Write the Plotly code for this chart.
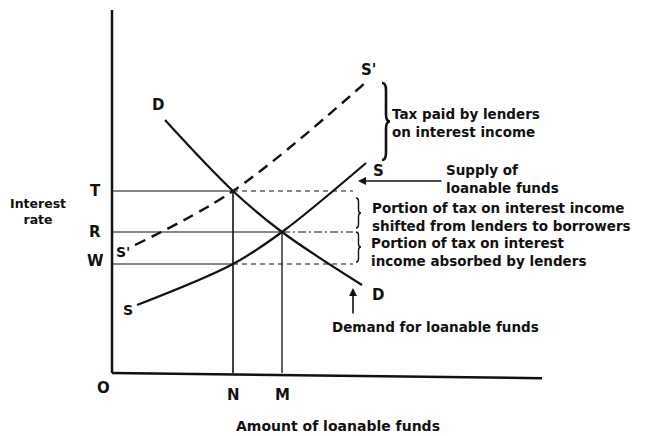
import plotly.graph_objects as go

# ---------------- data (economic units) ----------------
# Demand for loanable funds (quantity, interest rate)
demand_x = [1.06, 2.42, 3.40, 5.00]
demand_y = [6.325, 4.55, 3.525, 2.20]
# Supply of loanable funds before tax
supply_x = [0.50, 2.42, 3.40, 5.08]
supply_y = [1.70, 2.725, 3.525, 5.25]
# Supply after tax on interest income (S')
supply_tax_x = [0.46, 2.42, 5.06]
supply_tax_y = [3.20, 4.55, 7.25]

# key quantities and rates
N, M = 2.42, 3.40
T, R, W = 4.55, 3.525, 2.725

rate_labels = ["T", "R", "W"]
qty_labels = ["N", "M"]

# ---------------- layout helpers ----------------
# (page body has an 8px margin, ranges compensate for it)
X_RANGE = [-2.08, 10.82]
Y_RANGE = [-1.775, 9.125]
GUIDE_END = 4.82
Y_AXIS_TOP = 9.075
X_AXIS_END = 8.6

FONT = "DejaVu Sans"
BLACK = "#111111"

fig = go.Figure()

def line(xs, ys, width=1.2, dash="solid", shape="linear"):
    fig.add_trace(go.Scatter(x=xs, y=ys, mode="lines",
                             line=dict(color=BLACK, width=width, dash=dash, shape=shape),
                             hoverinfo="skip", showlegend=False))

# axes
line([0, 0], [Y_AXIS_TOP, 0], width=2.5)
line([0, X_AXIS_END], [0, -0.13], width=2.5)

# curves
line(demand_x, demand_y, width=2.2, shape="spline")
line(supply_x, supply_y, width=2.2, shape="spline")
line(supply_tax_x, supply_tax_y, width=2.4, dash="11px,7px", shape="spline")

# guide lines
line([0, N], [T, T], width=1.2)
line([N, GUIDE_END], [T, T], width=1.2, dash="5px,4px")
line([0, M], [R, R], width=1.2)
line([M, GUIDE_END], [R, R], width=1.2, dash="8px,3px,2px,3px")
line([0, N], [W, W], width=1.2)
line([N, GUIDE_END], [W, W], width=1.2, dash="5px,4px")
line([N, N], [0, T], width=1.6)
line([M, M], [0, R], width=1.3)


def brace(x, y_top, y_bot, w, d):
    ym = (y_top + y_bot) / 2
    h = x + w / 2
    return (f"M {x},{y_top} Q {h},{y_top} {h},{y_top - d} "
            f"L {h},{ym + d} Q {h},{ym} {x + w},{ym} "
            f"Q {h},{ym} {h},{ym - d} "
            f"L {h},{y_bot + d} Q {h},{y_bot} {x},{y_bot}")

shapes = [
    dict(type="path", xref="x", yref="y", path=brace(5.40, 7.25, 5.325, 0.16, 0.18),
         line=dict(color=BLACK, width=2.6)),
    dict(type="path", xref="x", yref="y", path=brace(4.88, 4.375, 3.625, 0.10, 0.08),
         line=dict(color=BLACK, width=1.4)),
    dict(type="path", xref="x", yref="y", path=brace(4.88, 3.525, 2.775, 0.10, 0.08),
         line=dict(color=BLACK, width=1.4)),
]

annotations = []

def text(x, y, s, size=13.5, xanchor="center", align="left"):
    annotations.append(dict(x=x, y=y, xref="x", yref="y", text=s, showarrow=False,
                            xanchor=xanchor, yanchor="middle", align=align,
                            font=dict(family=FONT, size=size, color=BLACK, weight="bold")))

# curve labels
text(0.92, 6.70, "D", 15)
text(5.32, 1.95, "D", 15)
text(5.12, 7.575, "S'", 15)
text(5.32, 5.05, "S", 15)
text(0.22, 3.025, "S'", 14)
text(0.32, 1.575, "S", 14)

# axis labels
for lab, val in zip(rate_labels, [T, R, W + 0.08]):
    text(-0.34, val, lab, 15)
text(-0.18, -0.375, "O", 15)
for lab, val in zip(qty_labels, [N, M]):
    text(val, -0.55, lab, 15)
text(4.52, -1.325, "Amount of loanable funds", 14)
text(-1.48, 4.05, "Interest<br>rate", 12.5, align="center")

# descriptions
text(5.56, 6.24, "Tax paid by lenders<br>on interest income", 13.5, xanchor="left")
text(6.64, 4.84, "Supply of<br>loanable funds", 13.5, xanchor="left")
text(5.16, 3.89, "Portion of tax on interest income<br>shifted from lenders to borrowers", 13.5, xanchor="left")
text(5.14, 3.025, "Portion of tax on interest<br>income absorbed by lenders", 13.5, xanchor="left")
text(4.36, 1.15, "Demand for loanable funds", 13.5, xanchor="left")

# arrows
annotations.append(dict(x=4.92, y=4.80, ax=6.62, ay=4.80, xref="x", yref="y",
                        axref="x", ayref="y", text="", showarrow=True,
                        arrowhead=2, arrowsize=1, arrowwidth=1.6, arrowcolor=BLACK))
annotations.append(dict(x=4.82, y=2.125, ax=4.82, ay=1.45, xref="x", yref="y",
                        axref="x", ayref="y", text="", showarrow=True,
                        arrowhead=2, arrowsize=1, arrowwidth=1.6, arrowcolor=BLACK))

fig.update_layout(
    width=645, height=436,
    margin=dict(l=0, r=0, t=0, b=0),
    paper_bgcolor="white", plot_bgcolor="white",
    xaxis=dict(range=X_RANGE, visible=False, fixedrange=True),
    yaxis=dict(range=Y_RANGE, visible=False, fixedrange=True),
    shapes=shapes, annotations=annotations,
    showlegend=False,
)

fig.write_html("out.html")
